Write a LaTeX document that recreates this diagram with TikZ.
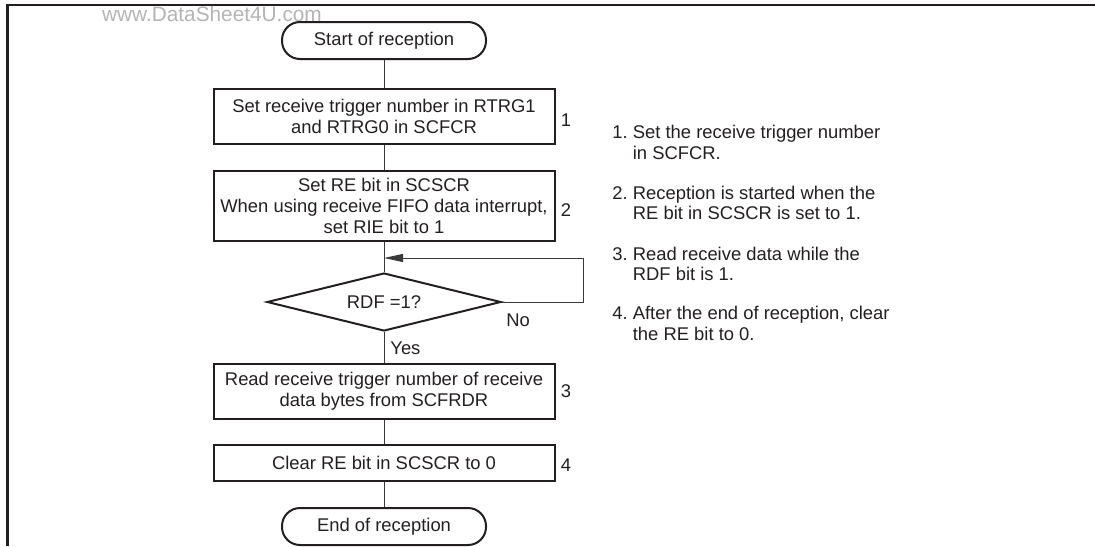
\documentclass[tikz,border=0pt]{standalone}
\usepackage{fontspec}
\setmainfont{Liberation Sans}
\usepackage{tikz}
\usetikzlibrary{arrows.meta,positioning,shapes.geometric}
\definecolor{rxink}{HTML}{231F20}
\definecolor{rxline}{HTML}{3A3A3A}
\definecolor{rxmark}{HTML}{B4B4B4}
\newcommand{\rxfont}{\fontsize{9.2}{10.3}\selectfont}

\begin{document}
\begin{tikzpicture}[>={Triangle[length=9.5pt,width=4pt]},
  font=\rxfont,text=rxink,
  stepbox/.style={draw=rxink,line width=1pt,rectangle,align=center,
    minimum width=170.5pt,inner sep=2pt},
  endbox/.style={draw=rxink,line width=1pt,rectangle,rounded corners=9pt,
    minimum width=102pt,minimum height=18.5pt},
  testbox/.style={draw=rxink,line width=1pt,diamond,aspect=4,
    minimum width=117pt,minimum height=29pt,inner sep=0pt},
  flow/.style={draw=rxline,line width=0.5pt},
  stepno/.style={inner sep=1pt},
  note/.style={anchor=west,align=left,inner sep=0pt}]
\useasboundingbox (0,0) rectangle (547.5pt,-273pt);
% frame
\draw[rxink,line width=1.2pt]
  (3.75pt,-273pt) -- (3.75pt,-2.5pt) -- (547.5pt,-2.5pt);
\node[font=\fontsize{10.4}{12}\selectfont,text=rxmark] (mark) at (106pt,-6.8pt)
  {www.DataSheet4U.com};
% flow
\node[endbox] (start) at (192pt,-20.25pt) {Start of reception};
\node[stepbox,minimum height=27.5pt,below=14pt of start] (set1)
  {Set receive trigger number in RTRG1\\and RTRG0 in SCFCR};
\node[stepbox,minimum height=35pt,below=12.5pt of set1] (set2)
  {Set RE bit in SCSCR\\When using receive FIFO data interrupt,\\set RIE bit to 1};
\node[testbox,below=15pt of set2] (rdf) {RDF =1?};
\node[stepbox,minimum height=27.5pt,below=15.5pt of rdf] (read)
  {Read receive trigger number of receive\\data bytes from SCFRDR};
\node[stepbox,minimum height=18pt,below=12pt of read] (clr)
  {Clear RE bit in SCSCR to 0};
\node[endbox,below=12.5pt of clr] (stop) {End of reception};
\draw[flow] (start) -- (set1);
\draw[flow] (set1) -- (set2);
\draw[flow] (set2) -- (rdf);
\draw[flow] (rdf) -- (read);
\draw[flow] (read) -- (clr);
\draw[flow] (clr) -- (stop);
\coordinate[below=8pt of set2.south] (back);
\draw[flow,->] (rdf.east) -- ++(40.5pt,0) |- (back);
\node[anchor=north west,inner sep=0pt] (no) at ([xshift=2pt,yshift=-5.5pt]rdf.east) {No};
\node[anchor=north west,inner sep=0pt] (yes) at ([xshift=3pt,yshift=-4.5pt]rdf.south) {Yes};
% step numbers
\node[stepno,right=1.5pt of set1,yshift=-2pt] (no1) {1};
\node[stepno,right=1.5pt of set2,yshift=-2pt] (no2) {2};
\node[stepno,right=1.5pt of read] (no3) {3};
\node[stepno,right=1.5pt of clr,yshift=-1pt] (no4) {4};
% notes
\node[note] (note1) at (306pt,-71.25pt)
  {1.\ Set the receive trigger number\\\hphantom{1.\ }in SCFCR.};
\node[note] (note2) at (306pt,-101.5pt)
  {2.\ Reception is started when the\\\hphantom{2.\ }RE bit in SCSCR is set to 1.};
\node[note] (note3) at (306pt,-132pt)
  {3.\ Read receive data while the\\\hphantom{3.\ }RDF bit is 1.};
\node[note] (note4) at (306pt,-161.75pt)
  {4.\ After the end of reception, clear\\\hphantom{4.\ }the RE bit to 0.};
\end{tikzpicture}
\end{document}
